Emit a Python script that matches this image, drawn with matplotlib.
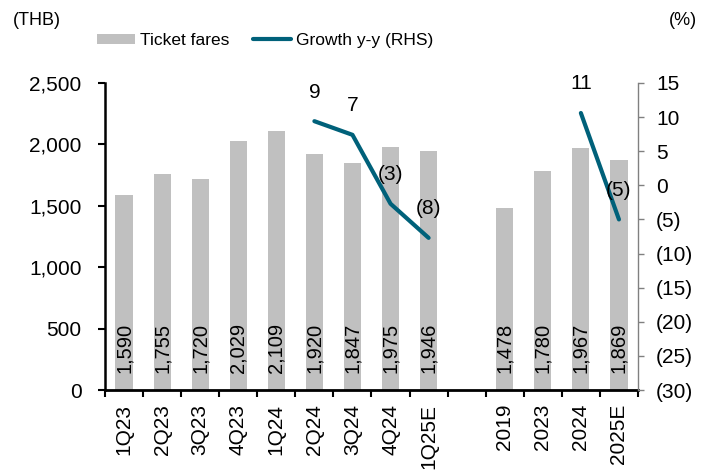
import matplotlib.pyplot as plt
import matplotlib.ticker as mticker
import numpy as np

plt.rcParams['font.family'] = ['Liberation Sans', 'DejaVu Sans']

categories = ["1Q23", "2Q23", "3Q23", "4Q23", "1Q24", "2Q24", "3Q24", "4Q24", "1Q25E",
              "", "2019", "2023", "2024", "2025E"]
fares = [1590, 1755, 1720, 2029, 2109, 1920, 1847, 1975, 1946,
         np.nan, 1478, 1780, 1967, 1869]
growth = [np.nan, np.nan, np.nan, np.nan, np.nan, 9.4, 7.4, -2.7, -7.7,
          np.nan, np.nan, np.nan, 10.6, -5.0]

bar_color = "#C0C0C0"
line_color = "#00617A"

def paren(v):
    v = int(round(v))
    return f"({abs(v)})" if v < 0 else f"{v}"

x = np.arange(len(categories))
fig, ax = plt.subplots(figsize=(7.11, 4.72), dpi=100)
fig.subplots_adjust(left=0.1477, right=0.8973, top=0.8242, bottom=0.1737)

bars = ax.bar(x, fares, width=0.45, color=bar_color, label="Ticket fares", zorder=2)
for xi, v in zip(x, fares):
    if np.isnan(v):
        continue
    ax.annotate(f"{int(v):,}", (xi, 0), xytext=(0, 12), textcoords="offset points",
                rotation=90, ha="center", va="bottom", fontsize=14.5, color="black")

ax.set_xlim(-0.5, len(categories) - 0.5)
ax.set_ylim(0, 2500)
ax.yaxis.set_major_locator(mticker.MultipleLocator(500))
ax.yaxis.set_major_formatter(mticker.FuncFormatter(lambda v, p: f"{int(v):,}"))
ax.set_xticks(x)
ax.set_xticklabels(categories, rotation=90)
ax.set_xticks(np.arange(-0.5, len(categories)), minor=True)
ax.tick_params(axis="x", which="major", length=0, labelsize=15, pad=10)
ax.tick_params(axis="x", which="minor", length=5, width=1.5, direction="out")
ax.tick_params(axis="y", length=5, width=1.5, labelsize=15, pad=12)
for s in ["top", "right"]:
    ax.spines[s].set_visible(False)
ax.spines["left"].set_linewidth(1.8)
ax.spines["bottom"].set_linewidth(2)

ax2 = ax.twinx()
g = np.array(growth)
ln, = ax2.plot(x, g, color=line_color, lw=3, solid_capstyle="round", label="Growth y-y (RHS)", zorder=3)
for xi, v in zip(x, g):
    if np.isnan(v):
        continue
    ax2.annotate(paren(v), (xi, v), xytext=(0, 21), textcoords="offset points",
                 ha="center", va="center", fontsize=15)
ax2.set_ylim(-30, 15)
ax2.yaxis.set_major_locator(mticker.MultipleLocator(5))
ax2.yaxis.set_major_formatter(mticker.FuncFormatter(lambda v, p: paren(v)))
ax2.tick_params(axis="y", length=4, width=1, color="#808080", labelsize=15, pad=9)
for s in ["top", "left", "bottom"]:
    ax2.spines[s].set_visible(False)
ax2.spines["right"].set_color("#808080")
ax2.spines["right"].set_linewidth(1)

# legend font is narrow in the original, smaller size keeps the width close
fig.legend([bars, ln], ["Ticket fares", "Growth y-y (RHS)"], loc="center",
           bbox_to_anchor=(0.3727, 0.914), ncol=2, frameon=False, fontsize=12.5,
           handlelength=2.2, handleheight=0.55, handletextpad=0.25, columnspacing=1.4)

fig.text(0.018, 0.957, "(THB)", fontsize=13, va="center", ha="left")
fig.text(0.981, 0.957, "(%)", fontsize=13, va="center", ha="right")

plt.savefig("out.png", dpi=100)
